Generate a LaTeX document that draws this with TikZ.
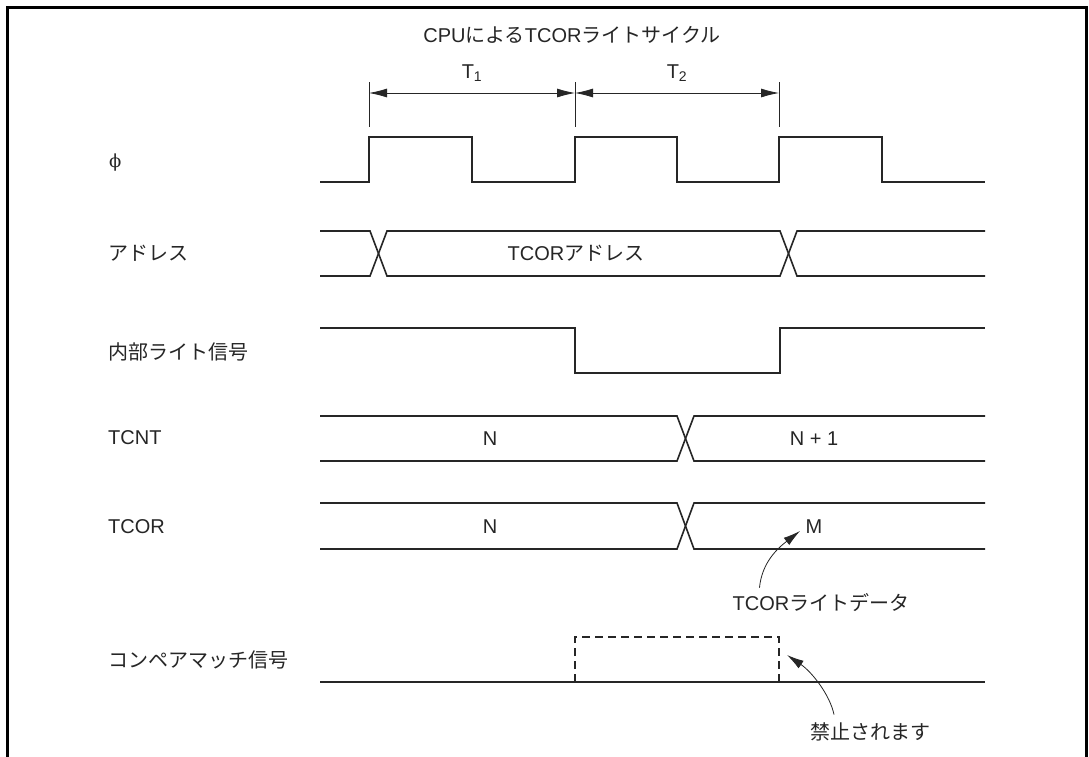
\documentclass[tikz,border=0pt]{standalone}
\usepackage{fontspec}
\setmainfont{Liberation Sans}
\newfontfamily\jp{Noto Sans CJK JP}
\newfontfamily\grk{DejaVu Serif}
\usetikzlibrary{arrows.meta}
\begin{document}
\begin{tikzpicture}[x=1pt,y=-1pt,
  font=\fontsize{20}{24}\selectfont,
  sig/.style={line width=1.6pt, draw=black!85, line join=miter},
  dim/.style={line width=0.8pt, draw=black!85},
  dimarrow/.style={line width=0.8pt, draw=black!85, {Latex[length=18pt,width=9pt]}-{Latex[length=18pt,width=9pt]}},
  callout/.style={line width=0.8pt, draw=black!85, -{Latex[length=17pt,width=9pt]}},
  lbl/.style={anchor=west, inner sep=0pt, text=black!85},
  txt/.style={inner sep=0pt, text=black!85}]
\useasboundingbox (0,0) rectangle (1089,756);
\fill[white] (0,0) rectangle (1089,756);
% frame
\draw[line width=3pt] (7,770) -- (7,7) -- (1086,7) -- (1086,770);

% title and cycle markers
\node[txt] (title) at (572,35) {CPU{\jp による}TCOR{\jp ライトサイクル}};
\coordinate (t0) at (369,93);
\coordinate (t1) at (575,93);
\coordinate (t2) at (779,93);
\draw[dim] (369,82) -- (369,127);
\draw[dim] (575,82) -- (575,127);
\draw[dim] (779,82) -- (779,127);
\draw[dimarrow] (t0) -- (t1);
\draw[dimarrow] (t1) -- (t2);
\node[txt] (lt1) at (472,73) {T$_{\mathrm{1}}$};
\node[txt] (lt2) at (677,73) {T$_{\mathrm{2}}$};

% left labels
\node[lbl] (lphi) at (109,163) {\grk\fontsize{18}{22}\selectfont ϕ};
\node[lbl] (ladr) at (108,253) {\jp アドレス};
\node[lbl] (lwr) at (108,352) {\jp 内部ライト信号};
\node[lbl] (lcnt) at (108,438) {TCNT};
\node[lbl] (lcor) at (108,527) {TCOR};
\node[lbl] (lcmp) at (108,660) {\jp コンペアマッチ信号};

% clock
\draw[sig] (320,182) -- (369,182) -- (369,137) -- (472,137) -- (472,182) -- (575,182) -- (575,137)
  -- (677,137) -- (677,182) -- (779,182) -- (779,137) -- (882,137) -- (882,182) -- (985,182);

% address bus
\draw[sig] (320,231) -- (370,231) -- (387,276) -- (780,276) -- (797,231) -- (985,231);
\draw[sig] (320,276) -- (370,276) -- (387,231) -- (780,231) -- (797,276) -- (985,276);
\node[txt] (vadr) at (576,253) {TCOR{\jp アドレス}};

% internal write
\draw[sig] (320,328) -- (575,328) -- (575,373) -- (780,373) -- (780,328) -- (985,328);

% TCNT
\draw[sig] (320,416) -- (677,416) -- (694,461) -- (985,461);
\draw[sig] (320,461) -- (677,461) -- (694,416) -- (985,416);
\node[txt] (vcn) at (490,439) {N};
\node[txt] (vcn1) at (814,439) {N + 1};

% TCOR
\draw[sig] (320,503) -- (677,503) -- (694,549) -- (985,549);
\draw[sig] (320,549) -- (677,549) -- (694,503) -- (985,503);
\node[txt] (vorn) at (490,527) {N};
\node[txt] (vorm) at (814,527) {M};

% compare match
\draw[sig] (320,682) -- (985,682);
\draw[sig, line width=1.3pt, dash pattern=on 8pt off 5pt] (575,682) -- (575,637) -- (779,637) -- (779,682);

% callouts
\node[txt] (wdata) at (821,603) {TCOR{\jp ライトデータ}};
\coordinate (wtip) at (800,531);
\draw[callout] ([xshift=27pt,yshift=6pt]wdata.north west) .. controls (762,562) and (778,548) .. (wtip);

\node[txt] (inh) at (870,732) {\jp 禁止されます};
\coordinate (itip) at (787,655);
\draw[callout] ([xshift=-36pt,yshift=8pt]inh.north) .. controls (830,695) and (812,672) .. (itip);
\end{tikzpicture}
\end{document}
